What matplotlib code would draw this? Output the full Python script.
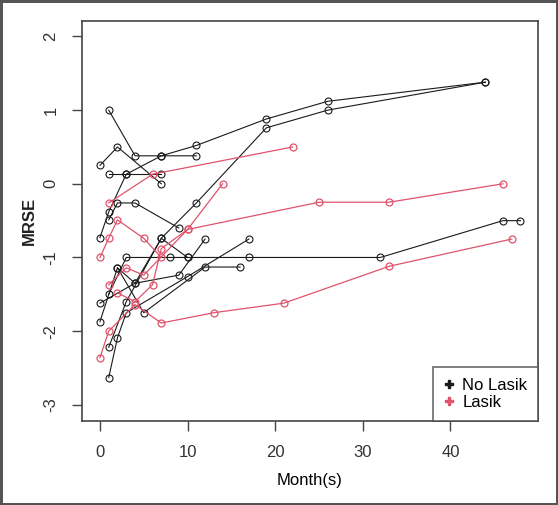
import matplotlib
matplotlib.use("Agg")
import matplotlib.pyplot as plt
from matplotlib.lines import Line2D

# months and MRSE values for each eye
no_lasik = [
    ([1, 4, 7, 11], [1.0, 0.38, 0.38, 0.38]),
    ([0, 2, 7], [0.25, 0.5, 0.0]),
    ([1, 3, 7], [0.13, 0.13, 0.13]),
    ([0, 1, 3, 7, 11, 19, 26, 44], [-0.73, -0.38, 0.13, 0.38, 0.52, 0.88, 1.12, 1.38]),
    ([1, 2, 4, 9], [-0.49, -0.26, -0.26, -0.6]),
    ([1, 3, 7, 11, 19, 26, 44], [-2.22, -1.6, -0.74, -0.26, 0.76, 1.0, 1.38]),
    ([1, 3, 8, 10, 17, 32, 46, 48], [-1.5, -1.0, -1.0, -1.0, -1.0, -1.0, -0.5, -0.5]),
    ([0, 4, 9, 12], [-1.62, -1.35, -1.24, -0.75]),
    ([1, 2, 3, 10, 17], [-2.63, -2.09, -1.75, -1.26, -0.75]),
    ([0, 2, 5, 12, 16], [-1.87, -1.14, -1.75, -1.13, -1.13]),
    ([2, 4, 7, 10], [-1.14, -1.35, -0.74, -1.0]),
]

lasik = [
    ([0, 1, 2, 5, 7], [-1.0, -0.74, -0.49, -0.74, -1.0]),
    ([1, 6, 22], [-0.26, 0.13, 0.5]),
    ([1, 3, 5, 10, 14], [-1.37, -1.14, -1.24, -0.62, 0.0]),
    ([2, 4, 6, 7, 10, 25, 33, 46], [-1.48, -1.6, -1.37, -0.88, -0.62, -0.25, -0.25, 0.0]),
    ([0, 1, 4, 7, 13, 21, 33, 47], [-2.36, -2.0, -1.64, -1.89, -1.75, -1.62, -1.12, -0.75]),
]

x_ticks = [0, 10, 20, 30, 40]
y_ticks = [-3, -2, -1, 0, 1, 2]

black = "#1a1a1a"
red = "#DF536B"

plt.rcParams['font.family'] = ['Liberation Sans', 'DejaVu Sans']

fig = plt.figure(figsize=(5.58, 5.05), dpi=100)
fig.patch.set_edgecolor("#555555")
fig.patch.set_linewidth(2.5)
ax = fig.add_axes([82 / 558, 1 - 421 / 505, (538 - 82) / 558, (421 - 21) / 505])

for xs, ys in no_lasik:
    ax.plot(xs, ys, '-o', color=black, lw=0.8, ms=5, mfc='none', mew=0.8)
for xs, ys in lasik:
    ax.plot(xs, ys, '-o', color=red, lw=0.9, ms=5, mfc='none', mew=0.9)

ax.set_xlim(-2.05, 50.0)
ax.set_ylim(-3.22, 2.21)
ax.set_xticks(x_ticks)
ax.set_yticks(y_ticks)
ax.set_yticklabels([str(v) for v in y_ticks], rotation=90, va='center')
ax.tick_params(length=7, width=1, color="#444444", labelsize=12, labelcolor="#333333", pad=10)
for s in ax.spines.values():
    s.set_color("#444444")
    s.set_linewidth(1.2)

ax.set_xlabel("Month(s)", fontsize=12, labelpad=10)
ax.set_ylabel("MRSE", fontsize=12, labelpad=5, fontweight='bold', color="#222222")

handles = [Line2D([], [], ls='none', marker='P', color=black, ms=6),
           Line2D([], [], ls='none', marker='P', color=red, ms=6)]
leg = ax.legend(handles, ["No Lasik", "Lasik"], loc='lower right', borderaxespad=0,
                fancybox=False, edgecolor="#444444", fontsize=12, handlelength=0.6,
                handletextpad=0.5, borderpad=0.65, labelspacing=0.15)
leg.get_frame().set_linewidth(1.2)

fig.savefig("out.png", dpi=100)
